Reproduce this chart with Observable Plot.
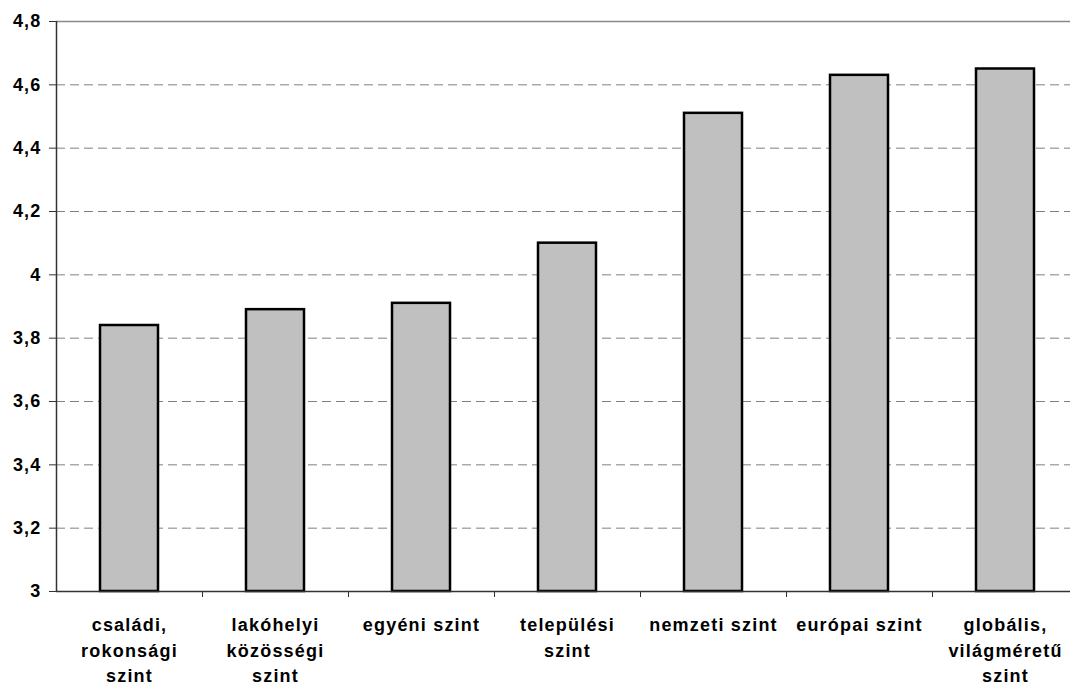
<!DOCTYPE html>
<html>
<head>
<meta charset="utf-8">
<script src="https://cdn.jsdelivr.net/npm/d3@7"></script>
<script src="https://cdn.jsdelivr.net/npm/@observablehq/plot@0.6"></script>
<style>
  html, body { margin: 0; padding: 0; background: #fff; overflow: hidden; }
  #chart svg { display: block; max-width: none !important; }
</style>
</head>
<body>
<div id="chart"></div>
<script>
const categories = [
  "családi,\nrokonsági\nszint",
  "lakóhelyi\nközösségi\nszint",
  "egyéni szint",
  "települési\nszint",
  "nemzeti szint",
  "európai szint",
  "globális,\nvilágméretű\nszint"
];
const values = [3.84, 3.89, 3.91, 4.10, 4.51, 4.63, 4.65];
const yTicks = [3, 3.2, 3.4, 3.6, 3.8, 4, 4.2, 4.4, 4.6, 4.8];

const data = categories.map((c, i) => ({i, label: c, value: values[i]}));
const fmt = d => String(+d.toFixed(1)).replace(".", ",");
const boundaries = d3.range(1, categories.length);
const centers = d3.range(categories.length).map(i => i + 0.5);

const plot = Plot.plot({
  width: 1080,
  height: 686,
  marginLeft: 56,
  marginRight: 2,
  marginTop: 21,
  marginBottom: 95,
  style: {fontFamily: "'Liberation Sans', Arial, sans-serif", background: "#fff", letterSpacing: "1.2px", maxWidth: "none"},
  x: {type: "linear", domain: [0, categories.length]},
  y: {domain: [3, 4.8]},
  marks: [
    Plot.ruleY(yTicks.slice(1, -1), {stroke: "#808080", strokeWidth: 1, strokeDasharray: "9,5"}),
    Plot.ruleY([4.8], {stroke: "#888", strokeWidth: 1.5}),
    Plot.rectY(data, {x1: d => d.i, x2: d => d.i + 1, y1: 3, y2: "value", fill: "#c0c0c0", stroke: "#000", strokeWidth: 2.5, insetLeft: 44, insetRight: 44}),
    Plot.ruleX([0], {stroke: "#333", strokeWidth: 1.5}),
    Plot.ruleY([3], {stroke: "#333", strokeWidth: 1.5}),
    Plot.axisY({ticks: yTicks, tickFormat: fmt, tickSize: 7, tickPadding: 8, fontSize: 18, fontWeight: "bold", color: "#000", stroke: "#333", label: null}),
    Plot.axisX({ticks: boundaries, tickFormat: () => "", tickSize: 6, stroke: "#333", label: null}),
    Plot.axisX({ticks: centers, tickFormat: d => categories[Math.floor(d)], tickSize: 0, tickPadding: 22, fontSize: 18, fontWeight: "bold", lineHeight: 1.4, color: "#000", label: null})
  ]
});
document.getElementById("chart").appendChild(plot);
</script>
</body>
</html>
